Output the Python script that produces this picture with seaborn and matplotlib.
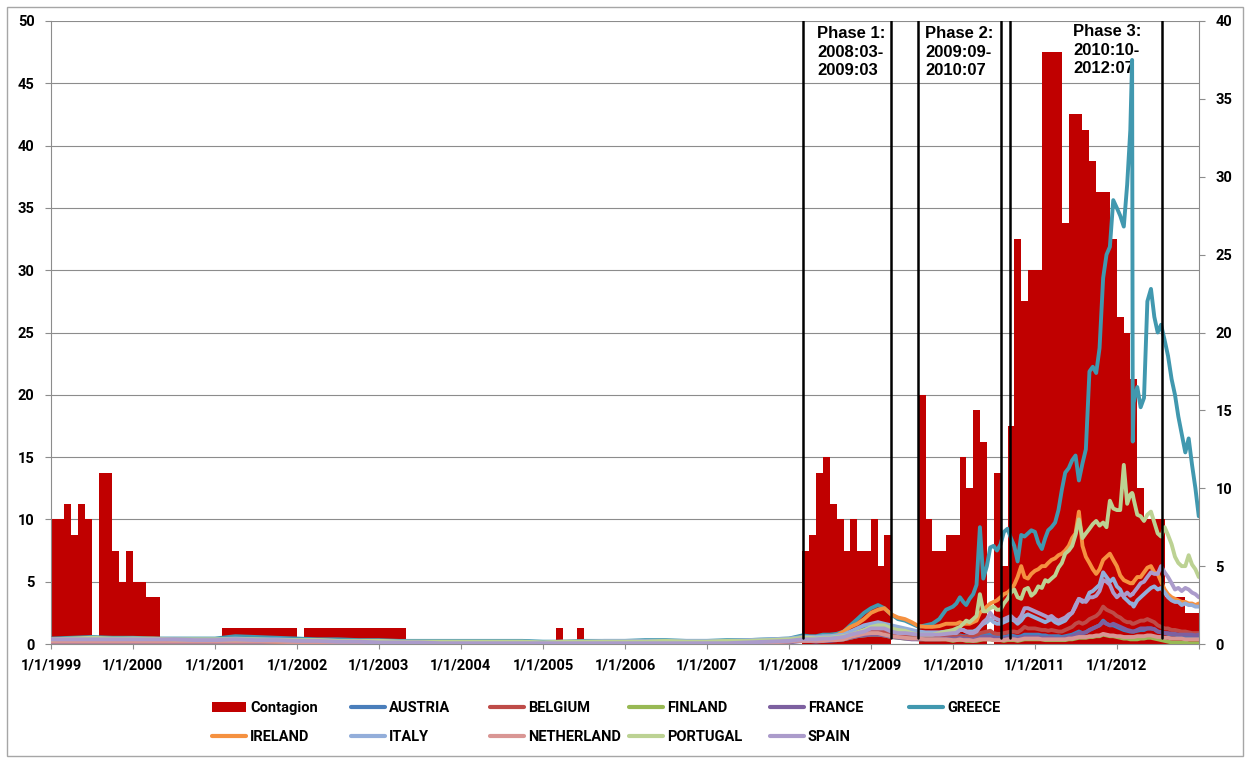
import pandas as pd
import matplotlib
matplotlib.use("Agg")
import matplotlib.pyplot as plt
from matplotlib.lines import Line2D
from matplotlib.patches import Patch, Rectangle
import seaborn as sns

# ---------------- data ----------------
# Contagion index, one value per month (Jan..Dec)
contagion_1999 = [10, 10, 11.25, 8.75, 11.25, 10, 0, 13.75, 13.75, 7.5, 5, 7.5]
contagion_2000 = [5, 5, 3.75, 3.75, 0, 0, 0, 0, 0, 0, 0, 0]
contagion_2001 = [0, 1.25, 1.25, 1.25, 1.25, 1.25, 1.25, 1.25, 1.25, 1.25, 1.25, 1.25]
contagion_2002 = [0, 1.25, 1.25, 1.25, 1.25, 1.25, 1.25, 1.25, 1.25, 1.25, 1.25, 1.25]
contagion_2003 = [1.25, 1.25, 1.25, 1.25, 0, 0, 0, 0, 0, 0, 0, 0]
contagion_2004 = [0, 0, 0, 0, 0, 0, 0, 0, 0, 0, 0, 0]
contagion_2005 = [0, 0, 1.25, 0, 0, 1.25, 0, 0, 0, 0, 0, 0]
contagion_2006 = [0, 0, 0, 0, 0, 0, 0, 0, 0, 0, 0, 0]
contagion_2007 = [0, 0, 0, 0, 0, 0, 0, 0, 0, 0, 0, 0]
contagion_2008 = [0, 0, 7.5, 8.75, 13.75, 15, 11.25, 10, 7.5, 10, 7.5, 7.5]
contagion_2009 = [10, 6.25, 8.75, 0, 0, 0, 0, 20, 10, 7.5, 7.5, 8.75]
contagion_2010 = [8.75, 15, 12.5, 18.75, 16.25, 0, 13.75, 6.25, 17.5, 32.5, 27.5, 30]
contagion_2011 = [30, 47.5, 47.5, 47.5, 33.75, 42.5, 42.5, 41.25, 38.75, 36.25, 36.25, 32.5]
contagion_2012 = [26.25, 25, 21.25, 12.5, 10, 10, 10, 3.75, 3.75, 3.75, 2.5, 2.5]

# Sovereign spreads (right axis).
# 1999-2007: quarterly; 2008-2009: monthly; 2010-2012: twice a month
greece_pre = [0.35, 0.4, 0.45, 0.4, 0.4, 0.35, 0.35, 0.35, 0.35, 0.5, 0.45, 0.4,
              0.35, 0.3, 0.3, 0.25, 0.25, 0.2, 0.2, 0.2, 0.2, 0.2, 0.2, 0.2,
              0.15, 0.15, 0.2, 0.2, 0.2, 0.25, 0.25, 0.2, 0.2, 0.25, 0.25, 0.3]
greece_mid = [0.35, 0.45, 0.55, 0.5, 0.5, 0.6, 0.6, 0.65, 0.8, 1.2, 1.6, 2.0,
              2.3, 2.5, 2.3, 1.9, 1.6, 1.5, 1.3, 1.1, 1.2, 1.3, 1.6, 2.2]
greece_2010 = [2.4, 2.6, 3.0, 2.7, 2.5, 2.9, 3.2, 3.8, 7.5, 4.2, 5.0, 6.2,
               6.3, 6.0, 6.4, 7.2, 7.4, 6.8, 6.3, 5.3, 7.0, 6.9, 7.1, 7.3]
greece_2011 = [7.2, 6.5, 6.1, 6.8, 7.3, 7.5, 7.8, 8.6, 9.9, 11.0, 11.3, 11.8,
               12.1, 10.5, 11.6, 12.5, 17.5, 17.8, 17.4, 19.0, 23.5, 25.0, 25.5, 28.5]
greece_2012 = [28.0, 27.5, 26.8, 29.5, 33.0, 37.5, 13.0, 15.5, 16.5, 15.2, 15.8, 22.0,
               22.8, 21.0, 20.0, 20.5, 19.5, 18.5, 17.0, 16.0, 14.6, 13.5, 12.3, 13.2,
               11.5, 10.0, 8.2]

ireland_pre = [0.25, 0.25, 0.3, 0.25, 0.25, 0.25, 0.2, 0.2, 0.2, 0.2, 0.2, 0.15,
               0.15, 0.15, 0.1, 0.1, 0.1, 0.1, 0.05, 0.05, 0.05, 0.05, 0.05, 0.05,
               0.05, 0.05, 0.05, 0.05, 0.05, 0.05, 0.05, 0.05, 0.05, 0.1, 0.15, 0.2]
ireland_mid = [0.3, 0.35, 0.45, 0.45, 0.4, 0.45, 0.5, 0.55, 0.8, 1.1, 1.3, 1.6,
               2.0, 2.2, 2.3, 1.9, 1.7, 1.6, 1.4, 1.15, 1.1, 1.1, 1.15, 1.3]
ireland_2010 = [1.3, 1.3, 1.4, 1.3, 1.3, 1.3, 1.4, 1.5, 2.0, 2.2, 2.4, 2.6,
                2.7, 2.8, 3.0, 3.2, 3.3, 3.5, 3.8, 4.3, 5.0, 4.3, 4.2, 4.5]
ireland_2011 = [4.7, 4.8, 5.0, 5.0, 5.2, 5.4, 5.5, 5.7, 5.8, 6.0, 6.3, 6.8,
                7.1, 8.5, 6.3, 5.6, 5.2, 4.8, 4.5, 4.8, 5.4, 5.6, 5.8, 5.4]
ireland_2012 = [5.0, 4.4, 4.1, 4.0, 3.9, 3.9, 3.9, 4.0, 4.3, 4.3, 4.6, 4.9,
                5.0, 4.6, 4.5, 4.0, 3.5, 3.2, 3.0, 2.9, 2.8, 2.7, 2.7, 2.6,
                2.6, 2.5, 2.6]

portugal_pre = [0.3, 0.35, 0.4, 0.35, 0.35, 0.35, 0.3, 0.3, 0.3, 0.3, 0.3, 0.25,
                0.25, 0.25, 0.2, 0.2, 0.2, 0.15, 0.15, 0.15, 0.15, 0.15, 0.15, 0.15,
                0.1, 0.15, 0.15, 0.15, 0.15, 0.15, 0.2, 0.15, 0.15, 0.2, 0.2, 0.25]
portugal_mid = [0.3, 0.35, 0.4, 0.4, 0.35, 0.4, 0.4, 0.45, 0.5, 0.6, 0.75, 0.9,
                1.1, 1.2, 1.2, 1.0, 0.9, 0.85, 0.7, 0.6, 0.6, 0.6, 0.7, 0.8]
portugal_2010 = [0.9, 1.0, 1.1, 1.3, 1.5, 1.4, 1.6, 1.8, 3.2, 2.1, 2.1, 2.3,
                 2.4, 2.2, 2.2, 2.6, 2.9, 3.3, 3.5, 3.0, 2.9, 3.5, 3.6, 3.1]
portugal_2011 = [3.3, 3.7, 3.6, 4.1, 4.0, 4.2, 4.4, 4.9, 5.2, 5.8, 6.0, 6.3,
                 7.0, 8.0, 6.8, 7.1, 7.4, 7.7, 7.9, 7.6, 7.8, 7.5, 9.2, 8.7]
portugal_2012 = [8.6, 8.6, 11.5, 9.0, 9.6, 9.7, 9.6, 9.3, 8.3, 8.2, 7.9, 8.3,
                 8.5, 7.8, 7.1, 6.9, 7.5, 7.0, 6.4, 5.6, 5.2, 5.0, 5.0, 5.7,
                 5.1, 4.8, 4.3]

spain_pre = [0.3, 0.3, 0.3, 0.3, 0.3, 0.3, 0.3, 0.25, 0.25, 0.3, 0.25, 0.25,
             0.2, 0.2, 0.15, 0.15, 0.1, 0.1, 0.1, 0.05, 0.05, 0.05, 0.05, 0.05,
             0.05, 0.05, 0.05, 0.05, 0.05, 0.05, 0.05, 0.05, 0.05, 0.05, 0.1, 0.15]
spain_mid = [0.2, 0.25, 0.3, 0.3, 0.3, 0.35, 0.35, 0.4, 0.45, 0.6, 0.7, 0.8,
             1.0, 1.0, 1.0, 0.8, 0.7, 0.7, 0.65, 0.6, 0.6, 0.6, 0.6, 0.65]
spain_2010 = [0.7, 0.7, 0.9, 0.9, 0.8, 0.7, 0.7, 0.8, 1.1, 1.4, 1.6, 2.0,
              1.7, 1.6, 1.5, 1.6, 1.7, 1.8, 1.6, 1.5, 1.8, 2.3, 2.3, 2.2]
spain_2011 = [2.1, 2.0, 1.9, 1.8, 1.7, 1.8, 1.6, 1.5, 1.6, 1.7, 1.9, 2.0,
              2.4, 2.9, 2.8, 2.7, 3.0, 3.0, 3.1, 3.4, 4.1, 4.0, 3.8, 3.3]
spain_2012 = [3.0, 3.2, 3.1, 3.3, 3.1, 3.2, 3.2, 3.3, 3.6, 3.9, 4.0, 4.3,
              4.6, 4.5, 4.5, 5.0, 4.6, 4.3, 3.9, 3.5, 3.6, 3.4, 3.6, 3.5,
              3.3, 3.2, 3.0]

italy_pre = [0.3, 0.3, 0.35, 0.3, 0.35, 0.3, 0.3, 0.3, 0.3, 0.35, 0.3, 0.3,
             0.25, 0.25, 0.2, 0.2, 0.2, 0.15, 0.15, 0.15, 0.15, 0.15, 0.15, 0.15,
             0.1, 0.15, 0.15, 0.2, 0.2, 0.2, 0.2, 0.2, 0.2, 0.2, 0.25, 0.3]
italy_mid = [0.35, 0.4, 0.45, 0.45, 0.45, 0.5, 0.5, 0.55, 0.6, 0.8, 1.0, 1.2,
             1.3, 1.4, 1.3, 1.2, 1.1, 1.0, 0.9, 0.8, 0.75, 0.75, 0.75, 0.8]
italy_2010 = [0.8, 0.8, 0.9, 0.9, 0.8, 0.8, 0.8, 0.9, 1.1, 1.3, 1.4, 1.6,
              1.4, 1.3, 1.3, 1.4, 1.5, 1.6, 1.5, 1.3, 1.5, 1.8, 1.9, 1.8]
italy_2011 = [1.7, 1.6, 1.5, 1.4, 1.5, 1.6, 1.4, 1.3, 1.4, 1.5, 1.8, 2.0,
              2.5, 2.9, 2.7, 2.8, 3.3, 3.4, 3.6, 3.8, 4.6, 4.3, 4.0, 4.2]
italy_2012 = [3.7, 3.5, 3.0, 2.8, 2.6, 2.6, 2.5, 2.4, 2.8, 3.0, 3.2, 3.4,
              3.6, 3.7, 3.5, 3.6, 3.3, 3.0, 2.8, 2.7, 2.7, 2.5, 2.6, 2.5,
              2.5, 2.4, 2.4]

belgium_pre = [0.25, 0.25, 0.3, 0.25, 0.25, 0.25, 0.25, 0.25, 0.25, 0.25, 0.25, 0.2,
               0.2, 0.2, 0.2, 0.2, 0.15, 0.15, 0.15, 0.15, 0.1, 0.1, 0.1, 0.1,
               0.1, 0.1, 0.1, 0.1, 0.1, 0.1, 0.1, 0.1, 0.1, 0.1, 0.15, 0.2]
belgium_mid = [0.2, 0.25, 0.3, 0.3, 0.3, 0.35, 0.35, 0.4, 0.5, 0.7, 0.8, 0.9,
               0.9, 0.9, 0.85, 0.7, 0.6, 0.55, 0.5, 0.45, 0.45, 0.45, 0.4, 0.45]
belgium_2010 = [0.45, 0.5, 0.5, 0.45, 0.45, 0.45, 0.5, 0.55, 0.7, 0.75, 0.8, 0.85,
                0.7, 0.65, 0.65, 0.7, 0.75, 0.8, 0.8, 0.75, 0.9, 1.1, 1.0, 1.0]
belgium_2011 = [1.0, 0.95, 0.9, 0.9, 0.85, 0.9, 0.85, 0.8, 0.8, 0.9, 1.0, 1.1,
                1.3, 1.4, 1.3, 1.4, 1.6, 1.7, 1.8, 2.0, 2.4, 2.2, 2.1, 2.0]
belgium_2012 = [1.8, 1.7, 1.5, 1.4, 1.4, 1.3, 1.3, 1.3, 1.4, 1.5, 1.5, 1.6,
                1.5, 1.4, 1.2, 1.1, 1.0, 1.0, 0.9, 0.9, 0.85, 0.8, 0.8, 0.75,
                0.7, 0.7, 0.7]

austria_pre = [0.2, 0.2, 0.2, 0.2, 0.2, 0.2, 0.2, 0.2, 0.2, 0.2, 0.2, 0.2,
               0.15, 0.15, 0.15, 0.15, 0.15, 0.15, 0.15, 0.15, 0.1, 0.1, 0.1, 0.1,
               0.1, 0.1, 0.1, 0.1, 0.1, 0.1, 0.1, 0.1, 0.1, 0.1, 0.15, 0.15]
austria_mid = [0.2, 0.25, 0.3, 0.3, 0.25, 0.3, 0.3, 0.35, 0.45, 0.7, 0.9, 1.1,
               1.2, 1.3, 1.2, 0.9, 0.7, 0.6, 0.55, 0.5, 0.45, 0.45, 0.45, 0.5]
austria_2010 = [0.5, 0.5, 0.55, 0.5, 0.5, 0.45, 0.45, 0.5, 0.55, 0.6, 0.6, 0.6,
                0.5, 0.5, 0.45, 0.45, 0.5, 0.55, 0.5, 0.45, 0.5, 0.6, 0.6, 0.6]
austria_2011 = [0.6, 0.6, 0.55, 0.55, 0.5, 0.5, 0.5, 0.5, 0.45, 0.5, 0.55, 0.6,
                0.7, 0.8, 0.7, 0.75, 0.9, 1.0, 1.1, 1.2, 1.5, 1.3, 1.2, 1.2]
austria_2012 = [1.1, 1.0, 0.9, 0.85, 0.8, 0.8, 0.8, 0.8, 0.85, 0.9, 0.9, 1.0,
                1.0, 0.95, 0.8, 0.75, 0.7, 0.65, 0.6, 0.6, 0.55, 0.55, 0.5, 0.5,
                0.5, 0.5, 0.5]

france_pre = [0.1, 0.1, 0.1, 0.1, 0.1, 0.1, 0.1, 0.1, 0.1, 0.1, 0.1, 0.1,
              0.05, 0.05, 0.05, 0.05, 0.05, 0.05, 0.05, 0.05, 0.05, 0.05, 0.05, 0.05,
              0.05, 0.05, 0.05, 0.05, 0.05, 0.05, 0.05, 0.05, 0.05, 0.05, 0.1, 0.1]
france_mid = [0.1, 0.15, 0.2, 0.2, 0.15, 0.2, 0.2, 0.25, 0.3, 0.4, 0.5, 0.55,
              0.6, 0.6, 0.55, 0.45, 0.4, 0.35, 0.3, 0.3, 0.3, 0.3, 0.3, 0.35]
france_2010 = [0.35, 0.35, 0.4, 0.35, 0.35, 0.3, 0.3, 0.35, 0.4, 0.45, 0.45, 0.45,
               0.4, 0.35, 0.35, 0.35, 0.4, 0.4, 0.35, 0.35, 0.4, 0.45, 0.45, 0.45]
france_2011 = [0.45, 0.45, 0.4, 0.4, 0.4, 0.4, 0.35, 0.35, 0.35, 0.4, 0.45, 0.5,
               0.6, 0.7, 0.7, 0.75, 0.9, 1.0, 1.1, 1.2, 1.4, 1.3, 1.2, 1.3]
france_2012 = [1.2, 1.1, 1.0, 0.9, 0.85, 0.8, 0.8, 0.8, 0.9, 1.0, 1.0, 1.0,
               1.0, 0.95, 0.8, 0.75, 0.7, 0.7, 0.65, 0.65, 0.6, 0.6, 0.6, 0.6,
               0.6, 0.55, 0.6]

netherland_pre = [0.15, 0.15, 0.15, 0.15, 0.15, 0.15, 0.15, 0.15, 0.15, 0.15, 0.15, 0.15,
                  0.1, 0.1, 0.1, 0.1, 0.1, 0.1, 0.1, 0.1, 0.05, 0.05, 0.05, 0.05,
                  0.05, 0.05, 0.05, 0.05, 0.05, 0.05, 0.05, 0.05, 0.05, 0.05, 0.1, 0.1]
netherland_mid = [0.15, 0.2, 0.2, 0.2, 0.2, 0.2, 0.25, 0.25, 0.3, 0.45, 0.55, 0.65,
                  0.7, 0.7, 0.6, 0.5, 0.45, 0.4, 0.35, 0.35, 0.3, 0.3, 0.3, 0.3]
netherland_2010 = [0.25, 0.25, 0.3, 0.25, 0.25, 0.25, 0.2, 0.25, 0.3, 0.3, 0.3, 0.3,
                   0.25, 0.25, 0.25, 0.25, 0.3, 0.3, 0.3, 0.25, 0.3, 0.35, 0.35, 0.35]
netherland_2011 = [0.35, 0.35, 0.3, 0.3, 0.3, 0.3, 0.3, 0.3, 0.3, 0.3, 0.35, 0.35,
                   0.4, 0.45, 0.45, 0.45, 0.5, 0.5, 0.55, 0.55, 0.65, 0.6, 0.55, 0.55]
netherland_2012 = [0.5, 0.5, 0.45, 0.45, 0.45, 0.45, 0.45, 0.45, 0.5, 0.5, 0.5, 0.55,
                   0.55, 0.5, 0.45, 0.45, 0.4, 0.4, 0.35, 0.35, 0.35, 0.35, 0.3, 0.3,
                   0.3, 0.3, 0.3]

finland_pre = [0.2, 0.2, 0.2, 0.2, 0.2, 0.2, 0.2, 0.2, 0.2, 0.2, 0.2, 0.2,
               0.1, 0.1, 0.1, 0.1, 0.1, 0.1, 0.1, 0.1, 0.05, 0.05, 0.05, 0.05,
               0.05, 0.05, 0.05, 0.05, 0.05, 0.05, 0.05, 0.05, 0.05, 0.05, 0.1, 0.1]
finland_mid = [0.15, 0.2, 0.2, 0.2, 0.2, 0.2, 0.25, 0.25, 0.3, 0.4, 0.5, 0.55,
               0.6, 0.6, 0.55, 0.45, 0.4, 0.35, 0.35, 0.3, 0.3, 0.3, 0.3, 0.3]
finland_2010 = [0.2, 0.25, 0.25, 0.25, 0.2, 0.2, 0.2, 0.2, 0.25, 0.3, 0.3, 0.3,
                0.25, 0.25, 0.25, 0.2, 0.25, 0.25, 0.25, 0.2, 0.25, 0.3, 0.3, 0.3]
finland_2011 = [0.3, 0.3, 0.3, 0.25, 0.25, 0.25, 0.25, 0.25, 0.25, 0.25, 0.3, 0.3,
                0.35, 0.4, 0.4, 0.4, 0.45, 0.45, 0.5, 0.5, 0.6, 0.55, 0.5, 0.5]
finland_2012 = [0.45, 0.4, 0.35, 0.35, 0.3, 0.3, 0.3, 0.3, 0.3, 0.35, 0.35, 0.4,
                0.4, 0.35, 0.3, 0.25, 0.2, 0.15, 0.1, 0.1, 0.1, 0.1, 0.1, 0.05,
                0.05, 0.05, 0.05]

countries = ["AUSTRIA", "BELGIUM", "FINLAND", "FRANCE", "GREECE",
             "IRELAND", "ITALY", "NETHERLAND", "PORTUGAL", "SPAIN"]
country_colors = ["#4A7EBB", "#BE4B48", "#98B954", "#7D60A0", "#4198AF",
                  "#F59140", "#93AEDA", "#D99694", "#BCD293", "#AB9BCB"]

# Phase boundaries and their labels
phase_bounds = ["2008-03-05", "2009-03-29", "2009-07-31",
                "2010-08-05", "2010-09-11", "2012-07-19"]
phase_labels = ["Phase 1:\n2008:03-\n2009:03",
                "Phase 2:\n2009:09-\n2010:07",
                "Phase 3:\n2010:10-\n2012:07"]

year_ticks = list(range(1999, 2014))

# ---------------- assemble ----------------
contagion = (contagion_1999 + contagion_2000 + contagion_2001 + contagion_2002 +
             contagion_2003 + contagion_2004 + contagion_2005 + contagion_2006 +
             contagion_2007 + contagion_2008 + contagion_2009 + contagion_2010 +
             contagion_2011 + contagion_2012)
month_edges = pd.date_range("1999-01-01", "2013-01-01", freq="MS")
contagion_steps = contagion + contagion[-1:]

pre_dates = pd.date_range("1999-01-01", "2007-10-01", freq="QS-JAN")
mid_dates = pd.date_range("2008-01-01", "2009-12-01", freq="MS")
firsts = pd.date_range("2010-01-01", "2012-12-01", freq="MS")
recent_dates = firsts.union(firsts + pd.Timedelta(days=15)).union(
    pd.to_datetime(["2012-03-09", "2012-03-12", "2012-12-31"]))
line_dates = pre_dates.append(mid_dates).append(recent_dates)

series = {
    "AUSTRIA": austria_pre + austria_mid + austria_2010 + austria_2011 + austria_2012,
    "BELGIUM": belgium_pre + belgium_mid + belgium_2010 + belgium_2011 + belgium_2012,
    "FINLAND": finland_pre + finland_mid + finland_2010 + finland_2011 + finland_2012,
    "FRANCE": france_pre + france_mid + france_2010 + france_2011 + france_2012,
    "GREECE": greece_pre + greece_mid + greece_2010 + greece_2011 + greece_2012,
    "IRELAND": ireland_pre + ireland_mid + ireland_2010 + ireland_2011 + ireland_2012,
    "ITALY": italy_pre + italy_mid + italy_2010 + italy_2011 + italy_2012,
    "NETHERLAND": netherland_pre + netherland_mid + netherland_2010 + netherland_2011 + netherland_2012,
    "PORTUGAL": portugal_pre + portugal_mid + portugal_2010 + portugal_2011 + portugal_2012,
    "SPAIN": spain_pre + spain_mid + spain_2010 + spain_2011 + spain_2012,
}
frames = [pd.DataFrame({"date": line_dates, "spread": series[c], "country": c})
          for c in countries]
spreads = pd.concat(frames, ignore_index=True)

# ---------------- style ----------------
sns.set_theme(style="white")
LABEL_FONT = ["Roboto", "DejaVu Sans"]
plt.rcParams["font.family"] = LABEL_FONT
plt.rcParams["font.weight"] = "bold"
plt.rcParams["text.color"] = "black"
GRID = "#8C8C8C"
W, H = 1248, 758

fig = plt.figure(figsize=(W / 100, H / 100), dpi=100)
ax = fig.add_axes([51 / W, 1 - 644 / H, (1199 - 51) / W, (644 - 21) / H])
ax2 = ax.twinx()

# contagion area (left axis)
ax.fill_between(month_edges, contagion_steps, step="post",
                color="#C00000", lw=0, zorder=2)
ax.set_ylim(0, 50)
ax.set_yticks(range(0, 51, 5))
ax.set_axisbelow(True)
ax.grid(axis="y", color=GRID, lw=0.8)
ax.grid(axis="x", visible=False)

# spreads (right axis)
sns.lineplot(data=spreads, x="date", y="spread", hue="country",
             hue_order=countries, palette=dict(zip(countries, country_colors)),
             estimator=None, lw=2.8, legend=False, ax=ax2,
             solid_joinstyle="round", solid_capstyle="round")
ax2.set_ylim(0, 40)
ax2.set_yticks(range(0, 41, 5))
ax2.grid(False)

# phase boundaries
for d in phase_bounds:
    ax2.axvline(pd.Timestamp(d), ymin=0.01, ymax=1.0, color="black",
                lw=1.8, zorder=10)

# phase captions
for lab, xpix, ypix in zip(phase_labels, [817, 925, 1073], [26, 26, 24]):
    ax.text(xpix / W, 1 - ypix / H, lab, transform=fig.transFigure,
            ha="left", va="top", fontsize=12, fontweight="bold", color="black",
            family=["Liberation Sans", "DejaVu Sans"], linespacing=1.3, zorder=5)

# axes formatting
tick_pos = [pd.Timestamp(f"{y}-01-01") for y in year_ticks]
ax.set_xlim(tick_pos[0], tick_pos[-1])
ax.set_xticks(tick_pos)
ax.set_xticklabels([f"1/1/{y}" for y in year_ticks[:-1]] + [""])
ax.set_xlabel("")
ax.set_ylabel("")
ax2.set_xlabel("")
ax2.set_ylabel("")

for a in (ax, ax2):
    for s in a.spines.values():
        s.set_visible(False)
ax.spines["left"].set_visible(True)
ax.spines["bottom"].set_visible(True)
ax2.spines["right"].set_visible(True)
for s in (ax.spines["left"], ax.spines["bottom"], ax2.spines["right"]):
    s.set_color(GRID)
    s.set_linewidth(0.8)

ax.tick_params(axis="y", direction="out", length=4.3, width=0.8, color=GRID,
               pad=7.5, labelsize=10.5, labelcolor="black", left=True)
ax.tick_params(axis="x", direction="out", length=3.6, width=0.8, color=GRID,
               pad=6.5, labelsize=10.5, labelcolor="black", bottom=True)
ax2.tick_params(axis="y", direction="out", length=4.3, width=0.8, color=GRID,
                pad=7.5, labelsize=10.5, labelcolor="black", right=True)
for lbl in ax.get_xticklabels() + ax.get_yticklabels() + ax2.get_yticklabels():
    lbl.set_fontweight("bold")
    lbl.set_family(LABEL_FONT)

# legend laid out on a fixed grid
legend_entries = [("Contagion", Patch(facecolor="#C00000", lw=0))] + [
    (c, Line2D([], [], color=col, lw=3.0, solid_capstyle="round"))
    for c, col in zip(countries, country_colors)]
col_x = [212, 351, 490, 629, 770, 909]
row_y = [708, 737]
for i, (lab, h) in enumerate(legend_entries):
    r, c = divmod(i, 6)
    leg = fig.legend(handles=[h], labels=[lab], loc="center left",
                     bbox_to_anchor=(col_x[c] / W, 1 - row_y[r] / H),
                     frameon=False, borderpad=0, borderaxespad=0,
                     handlelength=2.35, handleheight=0.7, handletextpad=0.25,
                     prop=dict(family=LABEL_FONT, weight="bold", size=10.5))
    for t in leg.get_texts():
        t.set_color("black")

# outer frame
fig.add_artist(Rectangle((7 / W, 1 - 756 / H), (1243 - 7) / W, (756 - 7) / H,
                         transform=fig.transFigure, fill=False,
                         edgecolor="#A6A6A6", lw=1))

fig.savefig("out.png", dpi=100)
